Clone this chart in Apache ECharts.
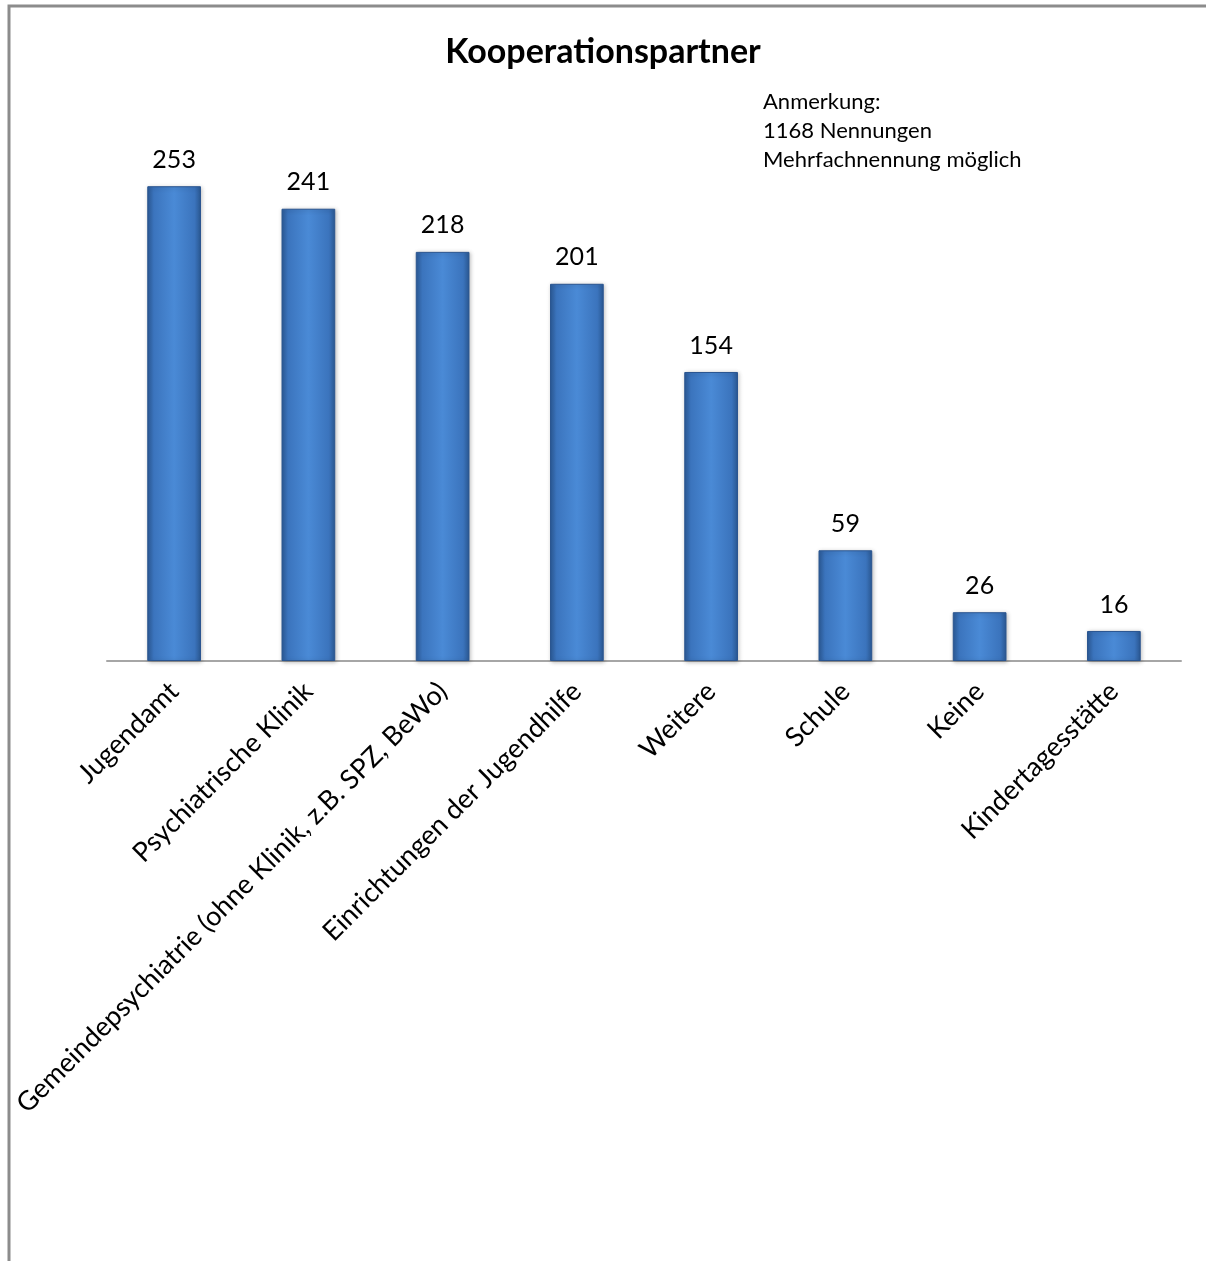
<!DOCTYPE html>
<html>
<head>
<meta charset="utf-8">
<script src="https://cdn.jsdelivr.net/npm/echarts@6/dist/echarts.min.js"></script>
<style>
  html, body { margin: 0; padding: 0; background: #fff; }
  #chart { width: 1206px; height: 1261px; }
</style>
</head>
<body>
<div id="chart"></div>
<script>
// Kategorien und Werte
var categories = ['Jugendamt', 'Psychiatrische Klinik', 'Gemeindepsychiatrie (ohne Klinik, z.B. SPZ, BeWo)',
  'Einrichtungen der Jugendhilfe', 'Weitere', 'Schule', 'Keine', 'Kindertagesstätte'];
var values = [253, 241, 218, 201, 154, 59, 26, 16];
var noteLines = ['Anmerkung:', '1168 Nennungen', 'Mehrfachnennung möglich'];

var chart = echarts.init(document.getElementById('chart'));

var barColor = new echarts.graphic.LinearGradient(0, 0, 1, 0, [
  { offset: 0, color: '#2c5b98' },
  { offset: 0.12, color: '#3b74bd' },
  { offset: 0.5, color: '#4a8ad6' },
  { offset: 0.88, color: '#3b74bd' },
  { offset: 1, color: '#2b5994' }
]);

var option = {
  backgroundColor: '#fff',
  animation: false,
  title: {
    text: 'Kooperationspartner',
    left: 'center',
    top: 30,
    textStyle: { fontFamily: 'Lato', fontWeight: 'bold', fontSize: 34, color: '#000' }
  },
  graphic: [
    {
      type: 'rect',
      shape: { x: 9, y: 6, width: 1400, height: 1400 },
      style: { fill: 'none', stroke: '#8c8c8c', lineWidth: 3 },
      silent: true
    },
    {
      type: 'text',
      left: 763,
      top: 87,
      style: {
        text: noteLines.join('\n'),
        fontFamily: 'Lato',
        fontSize: 22,
        lineHeight: 29,
        fill: '#000'
      }
    }
  ],
  grid: { left: 107, right: 25, top: 98, bottom: 600, containLabel: false },
  xAxis: {
    type: 'category',
    data: categories,
    axisLine: { lineStyle: { color: '#a6a6a6', width: 2 } },
    axisTick: { show: false },
    axisLabel: {
      interval: 0,
      rotate: 45,
      margin: 26,
      fontFamily: 'Lato',
      fontSize: 27,
      color: '#000'
    }
  },
  yAxis: {
    type: 'value',
    min: 0,
    max: 300,
    show: false,
    splitLine: { show: false }
  },
  series: [{
    type: 'bar',
    data: values,
    barWidth: '40%',
    itemStyle: {
      color: barColor,
      borderColor: '#2a5590',
      borderWidth: 1,
      shadowColor: 'rgba(0,0,0,0.25)',
      shadowBlur: 4,
      shadowOffsetX: 1,
      shadowOffsetY: 1
    },
    label: {
      show: true,
      position: 'top',
      distance: 14,
      fontFamily: 'Lato',
      fontSize: 25,
      color: '#000'
    }
  }]
};

chart.setOption(option);
</script>
</body>
</html>
